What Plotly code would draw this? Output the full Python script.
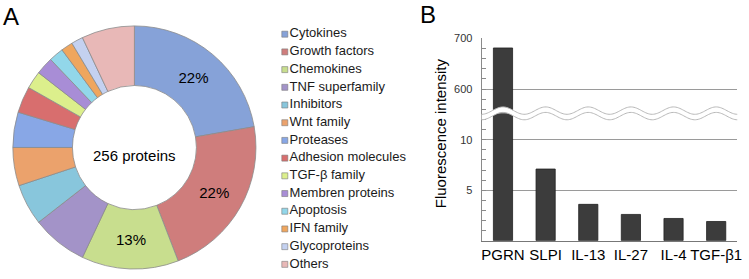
import numpy as np
import plotly.graph_objects as go

# ---------------- data ----------------
categories = ["Cytokines", "Growth factors", "Chemokines", "TNF superfamily", "Inhibitors",
              "Wnt family", "Proteases", "Adhesion molecules", "TGF-β family", "Membren proteins",
              "Apoptosis", "IFN family", "Glycoproteins", "Others"]
counts = [57, 56, 33, 19, 14, 13, 12, 9, 6, 6, 5, 4, 4, 18]
total_label = "256 proteins"

proteins = ["PGRN", "SLPI", "IL-13", "IL-27", "IL-4", "TGF-β1"]
intensity = [681, 7.1, 3.6, 2.6, 2.2, 1.9]
upper_ticks = [600, 700]
lower_ticks = [5, 10]

# ---------------- styles ----------------
colors = ["#86a2d8", "#cf7d7c", "#c8de8e", "#a393c8", "#88c6dc", "#eba26c", "#88a7e6",
          "#d86e6e", "#dcef8c", "#a88dd6", "#92d7ea", "#efa65e", "#c4d1f0", "#e8b8b7"]
FONT = "Liberation Sans, Arial, sans-serif"
W, H = 749, 279
TOP_OFF = 5          # rendered top offset observed in the capture
HEFF = H - TOP_OFF
SX = 0.994           # observed horizontal scale of the capture


def py(px):
    """paper y for a target pixel row (from top)."""
    return (H - px) / HEFF


def pxx(px):
    """paper x for a target pixel column."""
    return px / SX / W


fig = go.Figure()

# ---------- panel A: donut ----------
cx, cy, R = 134.5, 147, 122
show_pct = [i < 3 for i in range(len(categories))]
fig.add_trace(go.Pie(
    labels=categories, values=counts, sort=False, direction="clockwise", rotation=0,
    hole=0.51,
    marker=dict(colors=colors, line=dict(color="#8c8c8c", width=0.8)),
    texttemplate=["%{percent:.0%}" if s else "" for s in show_pct],
    textposition="inside", insidetextorientation="horizontal",
    insidetextfont=dict(family=FONT, size=15, color="black"),
    domain=dict(x=[pxx(cx - R), pxx(cx + R)], y=[max(py(cy + R), 0), min(py(cy - R), 1)]),
    showlegend=False, hoverinfo="label+value+percent",
))

# custom legend (scatter on hidden axes)
fig.add_trace(go.Scatter(
    x=[0] * len(categories), y=list(range(len(categories))),
    mode="markers+text", text=categories, textposition="middle right",
    marker=dict(symbol="square", size=6, color=colors, line=dict(color="#7a7a7a", width=0.6)),
    textfont=dict(family=FONT, size=13, color="#1a1a1a"),
    xaxis="x3", yaxis="y3", showlegend=False, hoverinfo="text", cliponaxis=False,
))

# ---------- panel B: broken-axis bars ----------
bar_style = dict(marker=dict(color="#3c3c3c", line=dict(color="#222", width=0.8)), width=0.45,
                 showlegend=False)
fig.add_trace(go.Bar(x=proteins, y=intensity, xaxis="x", yaxis="y", **bar_style))
fig.add_trace(go.Bar(x=proteins, y=intensity, xaxis="x", yaxis="y2", **bar_style))

x0p, x1p = 482, 738
y_break = 113
lower_dom = [py(240.5), py(y_break)]
upper_dom = [py(y_break), py(37.3)]
lower_range = [0, (240.5 - y_break) / 10.12]
upper_range = [700 - (y_break - 37.3) / 0.51, 700.3]

axis_common = dict(showline=True, linecolor="#8a8a8a", linewidth=1, ticks="inside", ticklen=4,
                   tickcolor="#8a8a8a", showgrid=True, gridcolor="#9a9a9a", gridwidth=1,
                   zeroline=False, tickfont=dict(family=FONT, size=11, color="#333"),
                   ticklabelstandoff=6)

leg_d = [0.36, 0.56]
leg_left = leg_d[0] * W
leg_w = (leg_d[1] - leg_d[0]) * W
mark_x = 285 / SX
row_px = (264.3 - 33.3) / 13
fig.update_layout(
    width=W, height=H, margin=dict(l=0, r=0, t=0, b=0),
    paper_bgcolor="white", plot_bgcolor="white",
    font=dict(family=FONT, color="black"),
    bargap=0.55,
    xaxis=dict(domain=[pxx(x0p), pxx(x1p)], anchor="y", showline=True, linecolor="#777",
               linewidth=1, ticks="", tickfont=dict(family=FONT, size=15, color="black"),
               showgrid=False, zeroline=False, range=[-0.5, 5.5], fixedrange=True),
    yaxis=dict(domain=lower_dom, range=lower_range, tickvals=lower_ticks, anchor="x",
               minor=dict(dtick=1, tick0=0, ticks="inside", ticklen=4, tickcolor="#8a8a8a",
                          showgrid=False),
               **axis_common),
    yaxis2=dict(domain=upper_dom, range=upper_range, tickvals=upper_ticks, anchor="x",
                minor=dict(dtick=20, tick0=0, ticks="inside", ticklen=4, tickcolor="#8a8a8a",
                           showgrid=False),
                **axis_common),
    xaxis3=dict(domain=leg_d, range=[leg_left - mark_x, leg_left - mark_x + leg_w],
                visible=False, fixedrange=True),
    yaxis3=dict(domain=[0, 1], range=[13 + (H - 264.3) / row_px, -(33.3 - TOP_OFF) / row_px],
                visible=False, anchor="x3", fixedrange=True),
)

# wave break (decoration)
xs = np.linspace(-0.5 - 5 / 42.7, 5.5, 200)
amp = 3.7
up_line = [110 - amp * np.cos(2 * np.pi * x) for x in xs]
lo_line = [115.5 - amp * np.cos(2 * np.pi * x) for x in xs]
band = "M " + " L ".join(f"{x:.4f},{py(y):.5f}" for x, y in zip(xs, up_line))
band += " L " + " L ".join(f"{x:.4f},{py(y):.5f}" for x, y in zip(xs[::-1], lo_line[::-1])) + " Z"
fig.add_shape(type="path", path=band, xref="x", yref="paper", fillcolor="white",
              line=dict(width=0), layer="above")
for line in (up_line, lo_line):
    p = "M " + " L ".join(f"{x:.4f},{py(y):.5f}" for x, y in zip(xs, line))
    fig.add_shape(type="path", path=p, xref="x", yref="paper",
                  line=dict(color="#b8b8b8", width=1), layer="above")

# annotations
ann = dict(xref="paper", yref="paper", showarrow=False, xanchor="center", yanchor="middle")
fig.add_annotation(x=pxx(cx), y=py(155), text=total_label,
                   font=dict(family=FONT, size=15, color="black"), **ann)
fig.add_annotation(x=pxx(11), y=py(16), text="A",
                   font=dict(family=FONT, size=24, color="black"), **ann)
fig.add_annotation(x=pxx(428), y=py(14), text="B",
                   font=dict(family=FONT, size=24, color="black"), **ann)
fig.add_annotation(x=pxx(441), y=py(133), text="Fluorescence intensity", textangle=-90,
                   font=dict(family=FONT, size=15, color="black"), **ann)

fig.write_html("out.html")
